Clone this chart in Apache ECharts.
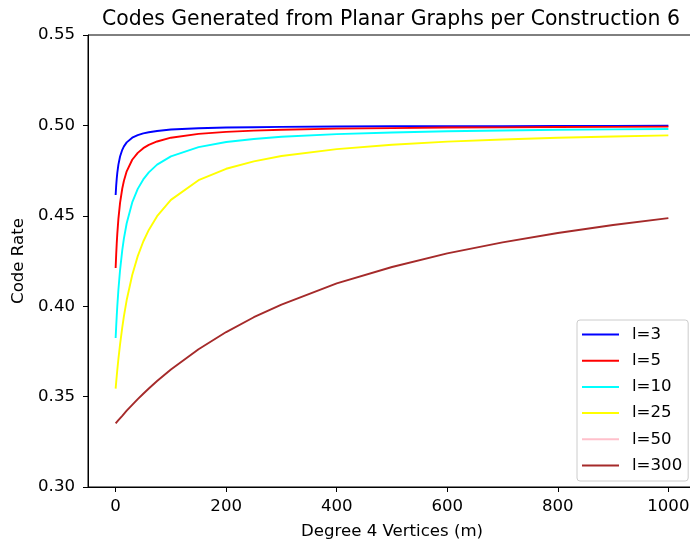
<!DOCTYPE html>
<html>
<head>
<meta charset="utf-8">
<script src="https://cdn.jsdelivr.net/npm/echarts@6/dist/echarts.min.js"></script>
<style>
html,body{margin:0;padding:0;background:#fff;overflow:hidden;width:690px;height:545px;}
#chart{width:696px;height:545px;}
</style>
</head>
<body>
<div id="chart"></div>
<script>
// Degree 4 vertices (m)
const mValues = [0,1,2,3,5,8,12,15,20,30,40,50,60,75,100,150,200,250,300,400,500,600,700,800,900,1000];
const rateL3 = [0.4615,0.4667,0.4706,0.4737,0.4783,0.4828,0.4865,0.4884,0.4906,0.4932,0.4946,0.4956,0.4962,0.4969,0.4977,0.4984,0.4988,0.4990,0.4992,0.4994,0.4995,0.4996,0.4996,0.4997,0.4997,0.4998];
const rateL5 = [0.4211,0.4286,0.4348,0.4400,0.4483,0.4571,0.4651,0.4694,0.4746,0.4810,0.4848,0.4874,0.4892,0.4911,0.4932,0.4953,0.4964,0.4971,0.4976,0.4982,0.4985,0.4988,0.4989,0.4991,0.4992,0.4993];
const rateL10 = [0.3824,0.3889,0.3947,0.4000,0.4091,0.4200,0.4310,0.4375,0.4459,0.4574,0.4649,0.4701,0.4740,0.4783,0.4829,0.4880,0.4908,0.4925,0.4937,0.4952,0.4961,0.4968,0.4972,0.4976,0.4978,0.4980];
const rateL25 = [0.3544,0.3580,0.3614,0.3647,0.3708,0.3789,0.3883,0.3945,0.4034,0.4173,0.4277,0.4358,0.4422,0.4498,0.4588,0.4697,0.4760,0.4801,0.4831,0.4869,0.4893,0.4910,0.4922,0.4932,0.4939,0.4945];
const rateL50 = []; // not visible in the reference
const rateL300 = [0.3352,0.3355,0.3359,0.3363,0.3370,0.3380,0.3394,0.3405,0.3422,0.3454,0.3486,0.3516,0.3545,0.3586,0.3650,0.3762,0.3857,0.3939,0.4009,0.4126,0.4217,0.4292,0.4353,0.4405,0.4449,0.4487];
const seriesNames = ['l=3','l=5','l=10','l=25','l=50','l=300'];
const xTicks = [0,200,400,600,800,1000];

const colors = ['#0000ff','#ff0000','#00ffff','#ffff00','#ffc0cb','#a52a2a'];
const allRates = [rateL3, rateL5, rateL10, rateL25, rateL50, rateL300];
const FONT = 'DejaVu Sans';
const FS = 16.6;

const chart = echarts.init(document.getElementById('chart'), null, {renderer:'canvas'});
chart.setOption({
  animation: false,
  backgroundColor: '#ffffff',
  title: {
    text: 'Codes Generated from Planar Graphs per Construction 6',
    left: 102, top: 10,
    padding: 0,
    textStyle: {fontFamily: FONT, fontSize: 20.4, fontWeight: 'normal', color: '#000'}
  },
  grid: {
    left: 88, right: 0, top: 35, bottom: 57,
    show: true, borderColor: '#000', borderWidth: 1, backgroundColor: 'transparent',
    containLabel: false
  },
  legend: {
    orient: 'vertical',
    left: 577, top: 320,
    padding: [6, 6, 7, 5],
    itemWidth: 37, itemHeight: 2, itemGap: 9.2,
    icon: 'rect',
    backgroundColor: 'rgba(255,255,255,0.8)',
    borderColor: '#cccccc', borderWidth: 1, borderRadius: 3,
    textStyle: {fontFamily: FONT, fontSize: FS, color: '#000', padding: [0,0,0,8]},
    data: seriesNames
  },
  xAxis: {
    type: 'value', min: -50, max: 1050,
    name: 'Degree 4 Vertices (m)', nameLocation: 'middle', nameGap: 36,
    nameTextStyle: {fontFamily: FONT, fontSize: FS, color: '#000'},
    axisLine: {show: true, onZero: false, lineStyle: {color: '#000', width: 1}},
    axisTick: {show: true, length: 5, lineStyle: {color: '#000'}, customValues: xTicks},
    axisLabel: {fontFamily: FONT, fontSize: FS, color: '#000', margin: 11, customValues: xTicks,
      formatter: v => String(v)},
    splitLine: {show: false}
  },
  yAxis: {
    type: 'value', min: 0.30, max: 0.55, interval: 0.05,
    name: 'Code Rate', nameLocation: 'middle', nameGap: 59, nameRotate: 90,
    nameTextStyle: {fontFamily: FONT, fontSize: FS, color: '#000'},
    axisLine: {show: true, onZero: false, lineStyle: {color: '#000', width: 1}},
    axisTick: {show: true, length: 5, lineStyle: {color: '#000'}},
    axisLabel: {fontFamily: FONT, fontSize: FS, color: '#000', margin: 13,
      formatter: v => v.toFixed(2)},
    splitLine: {show: false}
  },
  series: seriesNames.map((name, i) => ({
    name: name,
    type: 'line',
    showSymbol: false,
    symbol: 'none',
    color: colors[i],
    lineStyle: {color: colors[i], width: 1.9},
    data: allRates[i].map((v, j) => [mValues[j], v])
  }))
});
</script>
</body>
</html>
